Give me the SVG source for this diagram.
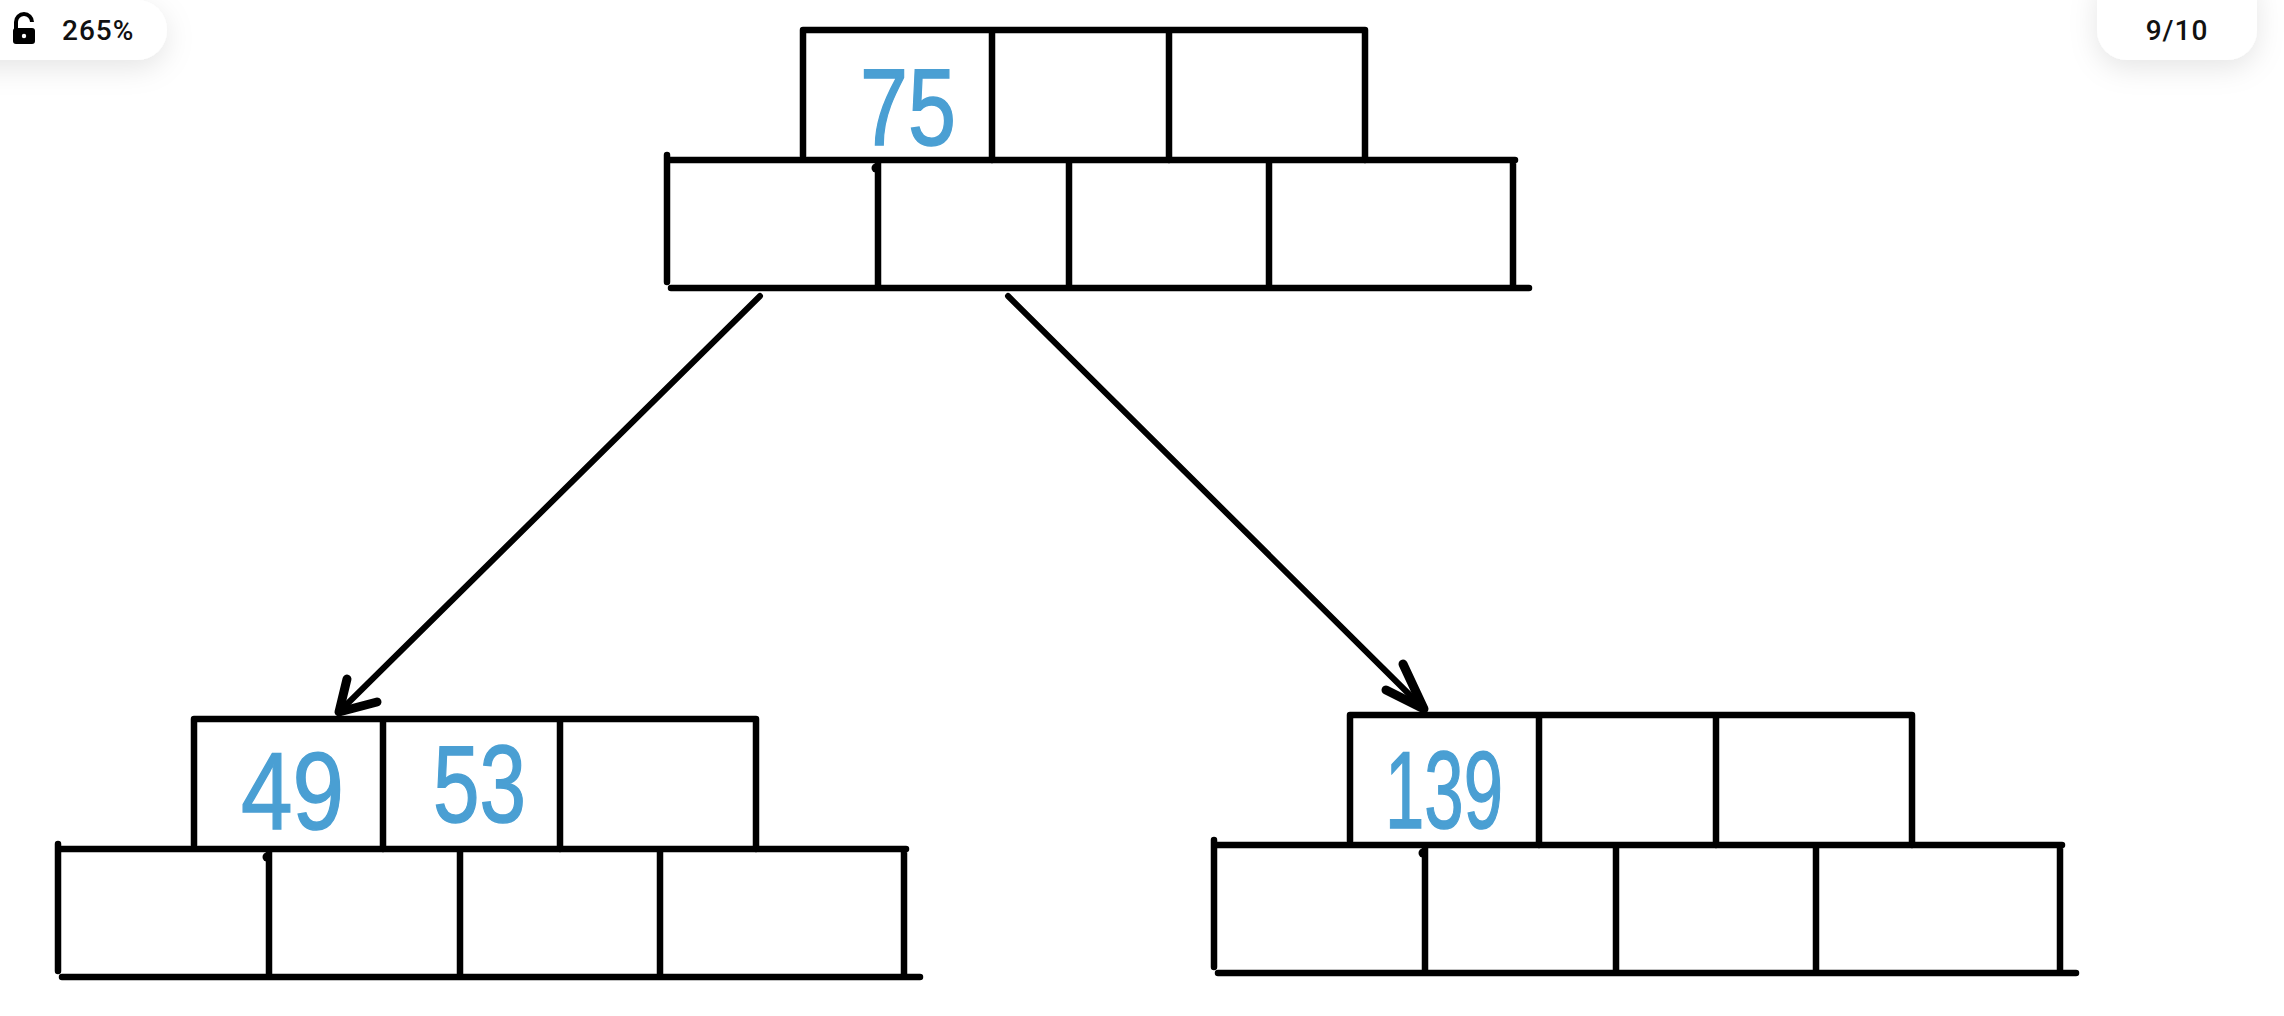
<svg xmlns="http://www.w3.org/2000/svg" xmlns:xlink="http://www.w3.org/1999/xlink" width="2284" height="1016" viewBox="0 0 2284 1016">
  <style>
    .ln { fill: none; stroke: #000; stroke-width: 6.5; stroke-linecap: round; stroke-linejoin: round; }
    .arr { fill: none; stroke: #000; stroke-width: 6; stroke-linecap: round; stroke-linejoin: round; }
    .head { fill: none; stroke: #000; stroke-width: 9; stroke-linecap: round; stroke-linejoin: round; }
    .key { fill: #4a9fd3; stroke: #4a9fd3; stroke-width: 1.5; font-family: "Liberation Sans", Arial, sans-serif; font-size: 110px; }
    .ui { fill: #111; font-family: "Roboto", "Liberation Sans", sans-serif; font-size: 28px; font-weight: 500; }
  </style>
  <defs>
    <filter id="sh" x="-50%" y="-80%" width="200%" height="300%">
      <feDropShadow dx="0" dy="8" stdDeviation="14" flood-color="#000" flood-opacity="0.10"/>
    </filter>
    <g id="bnode">
      <path class="ln" d="M136,-130 H698 M136,-130 V-4 M325,-130 V0 M502,-130 V0 M698,-130 V0"/>
      <path class="ln" d="M0,0 H848 M0,-5 V122 M211,0 V128 M402,0 V128 M602,0 V128 M846,0 V128 M4,128 H862"/>
      <circle cx="209" cy="8" r="4.5" fill="#000"/>
    </g>
  </defs>
  <rect width="2284" height="1016" fill="#fff"/>

  <g id="ui-zoom">
    <path d="M-40,0 H137 A30,30 0 0 1 137,60 H-40 Z" fill="#fff" filter="url(#sh)"/>
    <path d="M16,22 A8,8 0 0 1 32,22" fill="none" stroke="#000" stroke-width="4"/>
    <line x1="16" y1="22" x2="16" y2="29" stroke="#000" stroke-width="4"/>
    <rect x="13" y="28" width="22" height="16" rx="3" fill="#000"/>
    <circle cx="24" cy="36" r="2.2" fill="#fff"/>
    <text class="ui" x="62" y="40" letter-spacing="1">265%</text>
  </g>
  <g id="ui-page">
    <rect x="2097" y="-30" width="160" height="90" rx="30" fill="#fff" filter="url(#sh)"/>
    <text class="ui" x="2177" y="40" text-anchor="middle" letter-spacing="1" font-weight="400">9/10</text>
  </g>

  <g id="connectors">
    <path class="arr" d="M760,296 L339,712"/>
    <path class="head" d="M347,679 L339,712 L377,702"/>
    <path class="arr" d="M1008,296 L1424,709"/>
    <path class="head" d="M1403,664 L1424,709 L1386,690"/>
  </g>

  <g id="node-root" transform="translate(667,160)">
    <use xlink:href="#bnode"/>
    <text class="key" x="193" y="-15" textLength="96" lengthAdjust="spacingAndGlyphs">75</text>
  </g>
  <g id="node-left" transform="translate(58,849)">
    <use xlink:href="#bnode"/>
    <text class="key" x="183" y="-20" textLength="103" lengthAdjust="spacingAndGlyphs">49</text>
    <text class="key" x="375" y="-27" textLength="93" lengthAdjust="spacingAndGlyphs">53</text>
  </g>
  <g id="node-right" transform="translate(1214,845)">
    <use xlink:href="#bnode"/>
    <text class="key" x="171" y="-17" textLength="118" lengthAdjust="spacingAndGlyphs">139</text>
  </g>
</svg>
